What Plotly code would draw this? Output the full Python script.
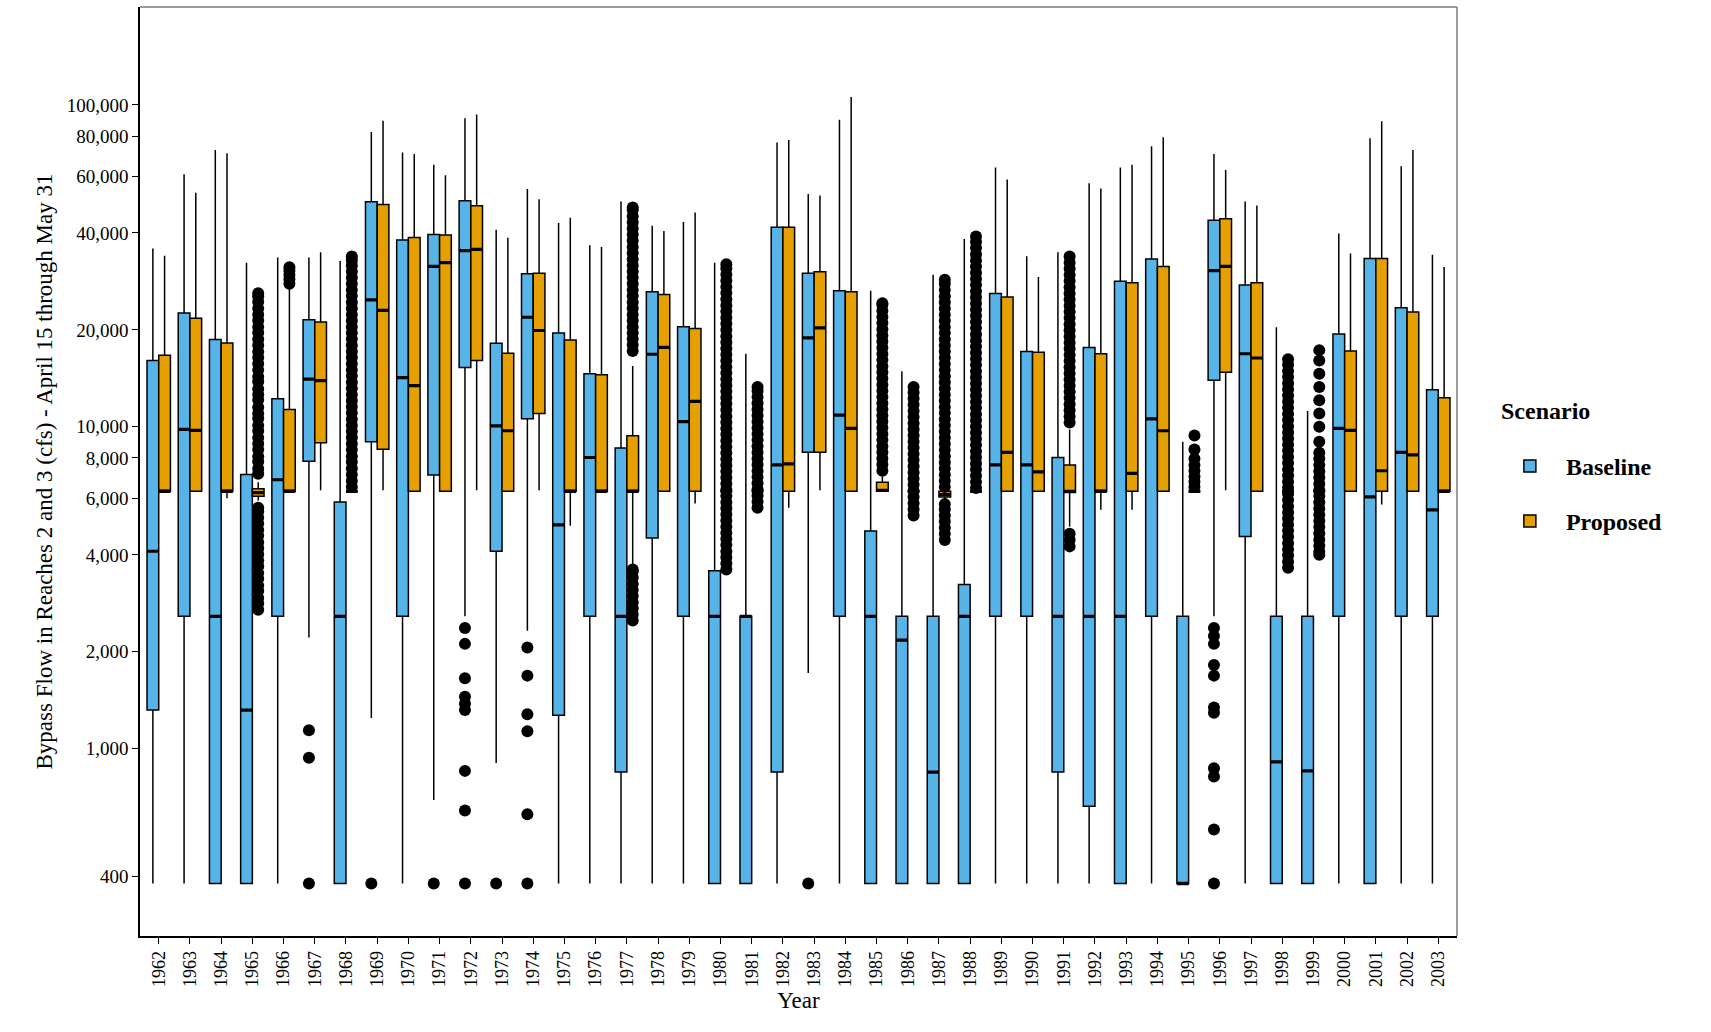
import plotly.graph_objects as go

years = list(range(1962, 2004))

# Baseline box statistics (cfs)
b_low = [381, 381, 381, 381, 381, 2214, 381, 1245, 381, 692, 2580, 903, 2326, 381,
         381, 381, 381, 381, 381, 381, 381, 1718, 381, 381, 381, 381, 381, 381,
         381, 381, 381, 381, 381, 381, 2576, 381, 381, 381, 381, 381, 381, 381]
b_q1 = [1318, 2576, 381, 381, 2576, 7815, 381, 8990, 2576, 7083, 15280, 4105, 10580, 1269,
        2576, 846, 4512, 2576, 381, 381, 846, 8330, 2576, 381, 381, 381, 381, 2576,
        2576, 846, 662, 381, 2576, 381, 13950, 4564, 381, 381, 2576, 381, 2576, 2576]
b_med = [4105, 9810, 2576, 1318, 6845, 14060, 2576, 24800, 14210, 31490, 35270, 10070, 21890, 4960,
         8025, 2576, 16800, 10380, 2576, 2576, 7610, 18880, 10860, 2576, 2173, 846, 2576, 7610,
         7610, 2576, 2576, 2576, 10580, 381, 30550, 16860, 910, 853, 9880, 6060, 8330, 5520]
b_q3 = [16050, 22560, 18670, 7110, 12220, 21480, 5838, 49960, 38040, 39530, 50350, 18180, 29870, 19540,
        14600, 8590, 26260, 20440, 3568, 2576, 41680, 30000, 26450, 4740, 2576, 2576, 3233, 25960,
        17120, 8025, 17640, 28310, 33190, 2576, 43770, 27570, 2576, 2576, 19410, 33300, 23430, 13030]
b_high = [35800, 60850, 72400, 32330, 33580, 33580, 32700, 82360, 71080, 65170, 90900, 40900, 54740, 42950,
          36640, 50120, 42150, 43280, 32330, 16860, 76380, 52900, 89900, 26450, 14880, 29640, 38330, 63940,
          33830, 34870, 57050, 63940, 74350, 8990, 70300, 50120, 20370, 11200, 39820, 78700, 64420, 34220]

# Proposed box statistics (cfs)
p_low = [6300, 6300, 6000, 5900, 6300, 6350, 6300, 6350, 6300, 6300, 6350, 6300, 6350, 4922,
         6300, 3700, 6300, 5771, 6300, 6300, 5600, 6350, 6300, 6300, 6300, 5950, 6300, 6300,
         6300, 4900, 5520, 5520, 6300, 6300, 6350, 6300, 6300, 6300, 6300, 5730, 6300, 6300]
p_q1 = [6300, 6300, 6300, 6080, 6300, 8923, 6300, 8520, 6300, 6300, 16050, 6300, 10990, 6300,
        6300, 6300, 6300, 6300, 6300, 6300, 6300, 8330, 6300, 6300, 6300, 6050, 6300, 6300,
        6300, 6250, 6300, 6300, 6300, 6300, 14770, 6300, 6300, 6300, 6300, 6300, 6300, 6300]
p_med = [6300, 9740, 6300, 6240, 6300, 13900, 6300, 23000, 13430, 32330, 35560, 9720, 19910, 6300,
         6300, 6300, 17640, 11990, 6300, 6300, 7670, 20290, 9880, 6350, 6300, 6150, 6300, 8330,
         7240, 6300, 6300, 7160, 9720, 6300, 31490, 16350, 6300, 6300, 9740, 7300, 8175, 6300]
p_q3 = [16670, 21720, 18200, 6420, 11320, 21150, 6300, 49000, 38700, 39400, 48600, 16920, 30000, 18590,
        14500, 9380, 25760, 20210, 6300, 6300, 41680, 30330, 26260, 6720, 6300, 6300, 6300, 25280,
        17050, 7600, 16860, 28000, 31490, 6300, 44270, 28000, 6300, 6300, 17180, 33300, 22730, 12310]
p_high = [33960, 53300, 70700, 6720, 26760, 34840, 6300, 89200, 70300, 60390, 93300, 38620, 50930, 44600,
          36200, 15450, 40580, 46340, 6300, 6300, 77800, 52300, 105800, 7000, 6300, 6400, 6300, 58600,
          29190, 9800, 54930, 65170, 79320, 6300, 62770, 48660, 6300, 6300, 34540, 88870, 72400, 31370]

# Outliers (cfs)
b_out = {
    1967: [1141, 937, 381],
    1969: [381],
    1971: [381],
    1972: [2370, 2116, 1654, 1449, 1380, 1318, 853, 642, 381],
    1973: [381],
    1974: [2061, 1686, 1279, 1133, 625, 381],
    1983: [381],
    1996: [2370, 2240, 2116, 1820, 1686, 1343, 1293, 869, 820, 561, 381],
}
p_out = {
    1965: [7150, 7400, 7780, 8090, 8500, 8850, 9250, 9700, 10100, 10600, 11000, 11500, 12100,
           12600, 13100, 13800, 14300, 15000, 15700, 16400, 17100, 17900, 18700, 19600, 20400,
           21400, 22300, 23300, 24400, 25400, 26000,
           2700, 2830, 2940, 3090, 3210, 3370, 3510, 3690, 3840, 4020, 4190, 4380, 4590, 4780,
           5010, 5220, 5450, 5600],
    1966: [27800, 28700, 29600, 30500, 31300],
    1968: [6500, 6780, 7100, 7420, 7770, 8100, 8480, 8850, 9260, 9680, 10100, 10560, 11040,
           11540, 12050, 12580, 13160, 13760, 14370, 15010, 15700, 16400, 17130, 17910, 18720,
           19550, 20430, 21360, 22300, 23320, 24380, 25470, 26600, 27820, 29050, 30380, 31720,
           32900, 33800],
    1977: [17200, 17950, 18720, 19560, 20420, 21360, 22300, 23330, 24360, 25480, 26600, 27800,
           29060, 30380, 31720, 33170, 34640, 36200, 37850, 39540, 41300, 43180, 45100, 47100,
           48000,
           2500, 2610, 2730, 2850, 2980, 3110, 3250, 3400, 3550, 3600],
    1980: [3600, 3760, 3930, 4100, 4290, 4480, 4680, 4890, 5110, 5340, 5580, 5830, 6090, 6370,
           6650, 6950, 7260, 7590, 7930, 8290, 8660, 9050, 9460, 9880, 10330, 10790, 11280,
           11780, 12310, 12870, 13450, 14050, 14680, 15340, 16030, 16750, 17510, 18300, 19120,
           19980, 20880, 21820, 22800, 23820, 24900, 26020, 27190, 28410, 29690, 31000, 32000],
    1981: [5600, 5850, 6110, 6390, 6680, 6980, 7290, 7620, 7960, 8320, 8700, 9090, 9500, 9920,
           10370, 10840, 11320, 11830, 12370, 12920, 13300],
    1985: [7300, 7630, 7970, 8330, 8700, 9090, 9500, 9930, 10380, 10840, 11330, 11840, 12380,
           12930, 13510, 14120, 14760, 15420, 16110, 16840, 17600, 18390, 19220, 20080, 20990,
           21930, 22920, 23950, 24200],
    1986: [5300, 5540, 5790, 6050, 6320, 6600, 6900, 7210, 7540, 7880, 8230, 8600, 8990, 9390,
           9820, 10260, 10720, 11200, 11700, 12230, 12780, 13300],
    1987: [6500, 6790, 7100, 7420, 7750, 8100, 8470, 8850, 9250, 9660, 10100, 10550, 11030,
           11520, 12040, 12580, 13150, 13740, 14360, 15010, 15680, 16390, 17120, 17890, 18700,
           19540, 20420, 21340, 22300, 23300, 24350, 25450, 26590, 27780, 28600,
           4450, 4650, 4860, 5080, 5300, 5540, 5750],
    1988: [6450, 6740, 7040, 7360, 7690, 8040, 8400, 8780, 9170, 9580, 10020, 10470, 10940,
           11430, 11940, 12480, 13040, 13630, 14240, 14880, 15550, 16250, 16980, 17750, 18550,
           19380, 20250, 21160, 22120, 23110, 24150, 25240, 26380, 27560, 28800, 30100, 31450,
           32870, 34350, 35890, 37510, 39000],
    1991: [10300, 10760, 11250, 11750, 12280, 12840, 13410, 14020, 14650, 15310, 16000, 16720,
           17470, 18250, 19080, 19930, 20830, 21770, 22750, 23770, 24840, 25960, 27130, 28350,
           29630, 30960, 32350, 33800,
           4250, 4450, 4650],
    1995: [9400, 8500, 7950, 7600, 7300, 7000, 6750, 6500],
    1998: [3650, 3810, 3990, 4160, 4350, 4550, 4750, 4960, 5190, 5420, 5660, 5920, 6180, 6460,
           6750, 7060, 7370, 7710, 8050, 8420, 8800, 9190, 9600, 10040, 10490, 10960, 11450,
           11970, 12510, 13070, 13660, 14270, 14910, 15580, 16200],
    1999: [17300, 16050, 14600, 13290, 12080, 10990, 10000, 8990,
           8300, 7950, 7600, 7270, 6960, 6650, 6360, 6090, 5830, 5570, 5330, 5100, 4880, 4670,
           4460, 4270, 4090, 4000],
}

y_ticks = [400, 1000, 2000, 4000, 6000, 8000, 10000, 20000, 40000, 60000, 80000, 100000]

BLUE = "#56B4E9"
ORANGE = "#E69F00"
FONT = "Liberation Serif"
OFFSET = 0.1875
BOXW = 0.375

fig = go.Figure()


def add_scenario(name, color, shift, low, q1, med, q3, high, outliers):
    xs = [y + shift for y in years]
    fig.add_trace(go.Box(
        name=name, x=xs, q1=q1, median=med, q3=q3, lowerfence=low, upperfence=high,
        width=BOXW, whiskerwidth=0, fillcolor=color,
        line=dict(color="black", width=1.5), boxpoints=False,
        legendgroup=name, showlegend=True, hoverinfo="skip",
    ))
    # thicker median bar
    fig.add_trace(go.Box(
        x=xs, q1=med, median=med, q3=med, lowerfence=med, upperfence=med,
        width=BOXW, whiskerwidth=0, fillcolor=color,
        line=dict(color="black", width=3.2), boxpoints=False,
        showlegend=False, hoverinfo="skip", legendgroup=name,
    ))
    ox, oy = [], []
    for yr, vals in outliers.items():
        for v in vals:
            ox.append(yr + shift)
            oy.append(v)
    fig.add_trace(go.Scatter(
        x=ox, y=oy, mode="markers",
        marker=dict(color="black", size=12),
        showlegend=False, hoverinfo="skip", legendgroup=name,
    ))


add_scenario("Baseline", BLUE, -OFFSET, b_low, b_q1, b_med, b_q3, b_high, b_out)
add_scenario("Proposed", ORANGE, OFFSET, p_low, p_q1, p_med, p_q3, p_high, p_out)

fig.update_layout(
    width=1711, height=1032,
    margin=dict(l=140, r=254, t=7, b=96),
    paper_bgcolor="white", plot_bgcolor="white",
    font=dict(family=FONT, color="black", size=18),
    boxmode="overlay",
    legend=dict(
        font=dict(size=24, family=FONT, weight="bold"),
        x=1.028, xanchor="left", y=0.476, yanchor="middle",
        tracegroupgap=21, itemwidth=62,
    ),
    annotations=[
        dict(text="<b>Scenario</b>", xref="paper", yref="paper", x=1.032, y=0.565,
             xanchor="left", yanchor="middle", showarrow=False,
             font=dict(size=24, family=FONT, color="black")),
    ],
    xaxis=dict(
        range=[1961.4, 2003.6],
        tickmode="array", tickvals=years, ticktext=[str(y) for y in years],
        tickangle=-90, ticks="outside", ticklen=6, tickwidth=1.2, tickcolor="black",
        showline=True, linecolor="black", linewidth=1.5,
        showgrid=False, zeroline=False,
        tickfont=dict(size=18, family=FONT),
        title=dict(text="Year", font=dict(size=23, family=FONT), standoff=6),
    ),
    yaxis=dict(
        type="log", range=[2.418, 5.304],
        tickmode="array", tickvals=y_ticks, ticktext=[f"{v:,}" for v in y_ticks],
        ticks="outside", ticklen=6, tickwidth=1.2, tickcolor="black",
        showline=True, linecolor="black", linewidth=1.5,
        showgrid=False, zeroline=False,
        tickfont=dict(size=19, family=FONT),
        title=dict(text="Bypass Flow in Reaches 2 and 3 (cfs) - April 15 through May 31",
                   font=dict(size=23, family=FONT), standoff=8),
    ),
    shapes=[
        dict(type="line", xref="paper", yref="paper", x0=0, x1=1, y0=1, y1=1,
             line=dict(color="#7a7a7a", width=1.5)),
        dict(type="line", xref="paper", yref="paper", x0=1, x1=1, y0=0, y1=1,
             line=dict(color="#7a7a7a", width=1.5)),
    ],
)

fig.write_html("out.html")
